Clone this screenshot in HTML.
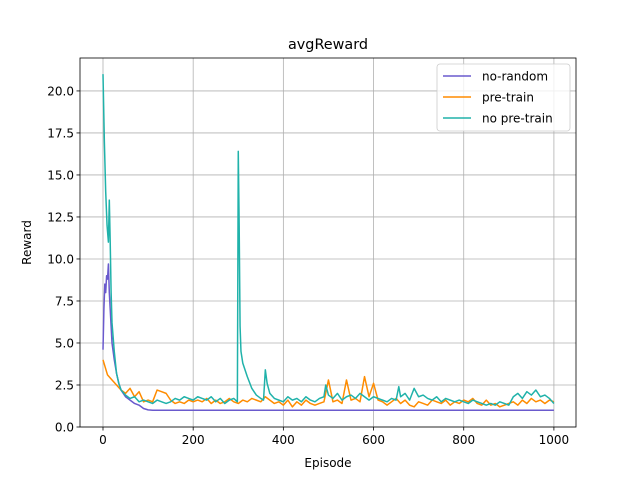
<!DOCTYPE html>
<html><head><meta charset="utf-8"><style>
body{margin:0;background:#fff}
svg{display:block;font-family:"DejaVu Sans","Liberation Sans",sans-serif}
</style></head><body>
<svg id="chart" width="640" height="480">
<rect width="640" height="480" fill="#fff"/>
</svg>
<script>
const xTicks=[0,200,400,600,800,1000];
const yTicks=[0,2.5,5,7.5,10,12.5,15,17.5,20];
const seriesNames=["no-random","pre-train","no pre-train"];
const noRandomX=[0,2,4,6,8,10,12,14,16,18,20,25,30,35,40,50,60,70,80,90,100,110,120,1000];
const noRandomY=[4.6,7,8.5,8,9,8.8,9.7,8,7,6,5,4,3.2,2.6,2.2,1.8,1.6,1.4,1.3,1.1,1.02,1,1,1];
const preTrainX=[0,10,20,30,40,50,60,70,80,90,100,110,120,130,140,150,160,170,180,190,200,210,220,230,240,250,260,270,280,290,300,310,320,330,340,350,360,370,380,390,400,410,420,430,440,450,460,470,480,490,500,510,520,530,540,550,560,570,580,590,600,610,620,630,640,650,660,670,680,690,700,710,720,730,740,750,760,770,780,790,800,810,820,830,840,850,860,870,880,890,900,910,920,930,940,950,960,970,980,990,1000];
const preTrainY=[4.0,3.1,2.8,2.5,2.2,2.0,2.3,1.8,2.1,1.5,1.6,1.5,2.2,2.1,2.0,1.6,1.4,1.5,1.4,1.6,1.5,1.6,1.5,1.7,1.4,1.6,1.4,1.5,1.7,1.5,1.4,1.6,1.5,1.7,1.6,1.5,1.8,1.6,1.4,1.5,1.3,1.6,1.2,1.5,1.3,1.6,1.4,1.3,1.4,1.5,2.8,1.5,1.6,1.4,2.8,1.6,1.7,1.5,3.0,1.8,2.6,1.6,1.5,1.3,1.5,1.7,1.4,1.6,1.3,1.2,1.5,1.4,1.3,1.6,1.5,1.4,1.6,1.3,1.5,1.4,1.6,1.5,1.7,1.4,1.3,1.6,1.3,1.4,1.2,1.3,1.4,1.5,1.3,1.6,1.4,1.7,1.5,1.6,1.4,1.6,1.5];
const noPreX=[0,3,6,9,12,14,16,18,20,25,30,35,40,50,60,70,80,90,100,110,120,130,140,150,160,170,180,190,200,210,220,230,240,250,260,270,280,290,298,300,302,304,306,310,320,330,340,350,356,360,364,370,380,390,400,410,420,430,440,450,460,470,480,490,494,500,510,520,530,540,550,560,570,580,590,600,610,620,630,640,650,656,660,670,680,690,700,710,720,730,740,750,760,770,780,790,800,810,820,830,840,850,860,870,880,890,900,910,920,930,940,950,960,970,980,990,1000];
const noPreY=[21,17,14,12,11,13.5,11,8,6.2,4.5,3.2,2.6,2.2,1.9,1.7,1.8,1.5,1.6,1.5,1.4,1.6,1.5,1.4,1.5,1.7,1.6,1.8,1.7,1.6,1.8,1.7,1.6,1.8,1.5,1.7,1.4,1.6,1.7,1.5,16.4,12,6,4.5,3.8,3.0,2.3,1.9,1.7,1.6,3.4,2.6,2.0,1.7,1.6,1.5,1.8,1.6,1.7,1.5,1.8,1.6,1.5,1.7,1.8,2.5,1.9,1.7,2.0,1.6,1.8,1.9,1.7,2.0,1.8,1.6,1.8,1.7,1.6,1.5,1.7,1.6,2.4,1.8,2.0,1.6,2.3,1.8,1.9,1.7,1.6,1.8,1.5,1.7,1.6,1.5,1.6,1.5,1.4,1.6,1.5,1.4,1.3,1.4,1.3,1.5,1.4,1.3,1.8,2.0,1.7,2.1,1.9,2.2,1.8,1.9,1.7,1.4];

const svg=document.getElementById('chart');
const NS='http://www.w3.org/2000/svg';
const L=80,R=576,T=58,B=427,xMin=-51,xMax=1049,yMin=0,yMax=21.96;
const sx=v=>L+(v-xMin)/(xMax-xMin)*(R-L);
const sy=v=>B-(v-yMin)/(yMax-yMin)*(B-T);
function mk(tag,attrs,parent){const e=document.createElementNS(NS,tag);for(const k in attrs)e.setAttribute(k,attrs[k]);(parent||svg).appendChild(e);return e;}

const grid=mk('g',{});


xTicks.forEach(t=>{
  mk('line',{x1:sx(t),x2:sx(t),y1:T,y2:B,stroke:'#b0b0b0','stroke-width':0.8},grid);
  mk('line',{x1:sx(t),x2:sx(t),y1:B,y2:B+3.5,stroke:'#000','stroke-width':0.8});
  const tx=mk('text',{x:sx(t),y:B+17,'font-size':12,'text-anchor':'middle'});
  
  
  tx.textContent=t;
});
yTicks.forEach(t=>{
  mk('line',{x1:L,x2:R,y1:sy(t),y2:sy(t),stroke:'#b0b0b0','stroke-width':0.8},grid);
  mk('line',{x1:L-3.5,x2:L,y1:sy(t),y2:sy(t),stroke:'#000','stroke-width':0.8});
  const tx=mk('text',{x:L-6,y:sy(t)+4.5,'font-size':12,'text-anchor':'end'});
  
  
  tx.textContent=t.toFixed(1);
});

const colors=['#6a5acd','#ff8c00','#20b2aa'];
const xs=[noRandomX,preTrainX,noPreX], ys=[noRandomY,preTrainY,noPreY];
const clip=mk('clipPath',{id:'c'});mk('rect',{x:L,y:T,width:R-L,height:B-T},clip);
xs.forEach((xa,i)=>{
  const d=xa.map((x,j)=>(j?'L':'M')+sx(x).toFixed(2)+','+sy(ys[i][j]).toFixed(2)).join('');
  const p=mk('path',{d:d,fill:'none',stroke:colors[i],'stroke-width':1.5,'clip-path':'url(#c)','stroke-linejoin':'round'});
  
  
});

const frame=mk('rect',{x:L,y:T,width:R-L,height:B-T,fill:'none',stroke:'#000','stroke-width':0.8});



const title=mk('text',{x:(L+R)/2,y:49,'font-size':14.4,'text-anchor':'middle'});


title.textContent='avgReward';
const xl=mk('text',{x:(L+R)/2,y:467,'font-size':12,'text-anchor':'middle'});


xl.textContent='Episode';
const yl=mk('text',{x:31,y:(T+B)/2,'font-size':12,'text-anchor':'middle',transform:'rotate(-90 31 '+((T+B)/2)+')'});


yl.textContent='Reward';

const lg=mk('g',{});


mk('rect',{x:437,y:64,width:133,height:67,rx:3,fill:'#fff','fill-opacity':0.8,stroke:'#cccccc','stroke-width':0.8},lg);
seriesNames.forEach((n,i)=>{
  const y=76+i*21;
  mk('line',{x1:443,x2:471,y1:y,y2:y,stroke:colors[i],'stroke-width':1.5},lg);
  const t=mk('text',{x:482,y:y+4.5,'font-size':12},lg);
  
  
  t.textContent=n;
});
</script>
</body></html>
